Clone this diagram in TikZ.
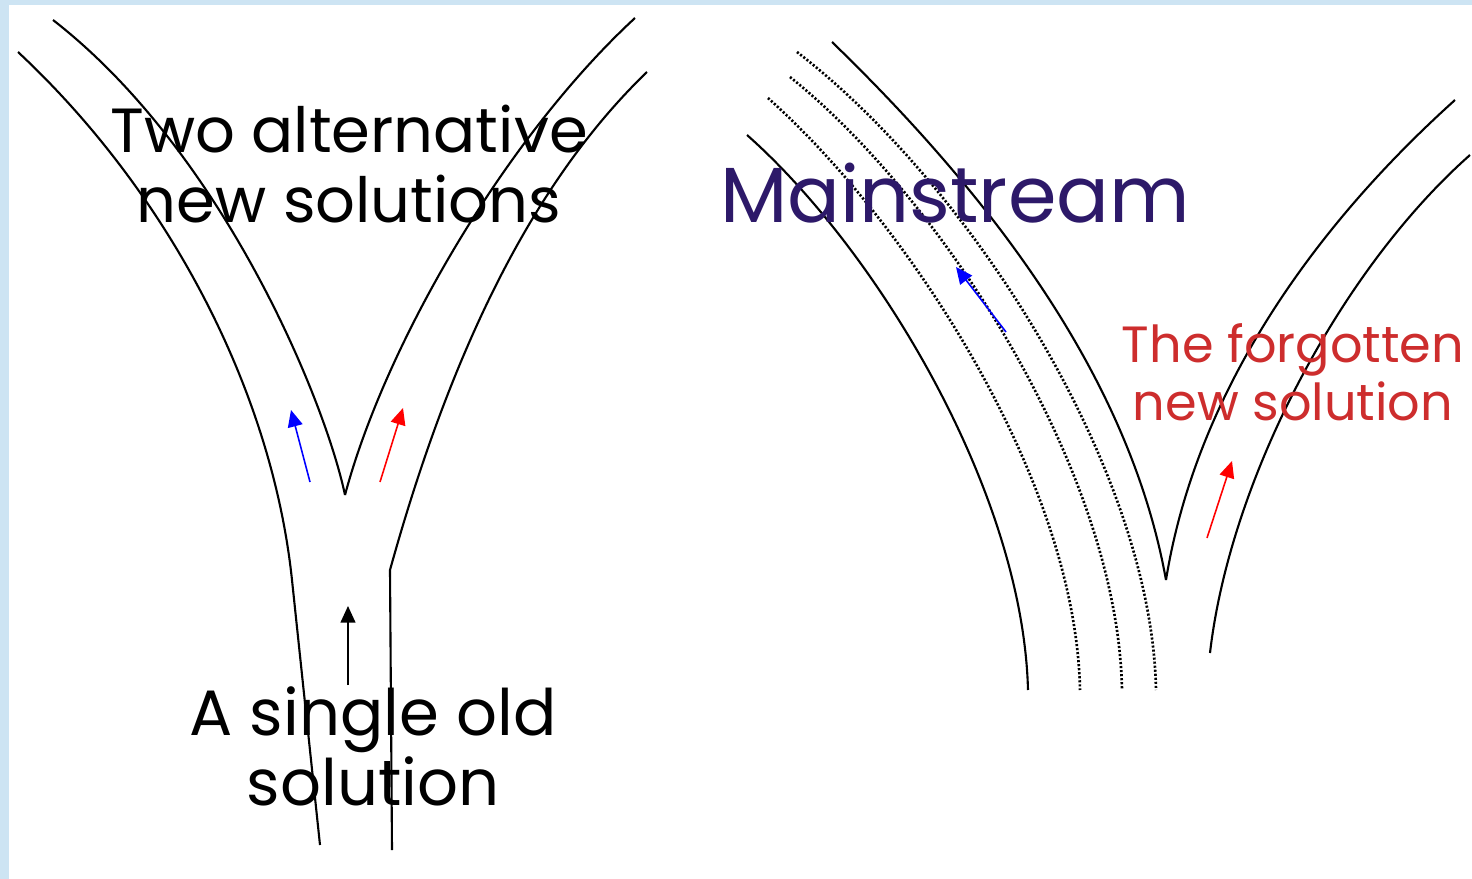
\documentclass[tikz,border=0pt]{standalone}
\usepackage{fontspec}
\setmainfont{Poppins}
\usetikzlibrary{arrows.meta}
\definecolor{frameblue}{RGB}{205,228,243}
\definecolor{streamink}{RGB}{45,25,105}
\definecolor{lostred}{RGB}{205,45,45}

\begin{document}
\begin{tikzpicture}[x=0.02cm, y=-0.02cm,
    rail/.style={line width=1.2pt},
    trail/.style={line width=1.5pt, dash pattern=on 1.2pt off 1.1pt},
    flow/.style={line width=0.9pt, -{Triangle[length=9.5pt, width=8.5pt]}},
    say/.style={anchor=base, align=center, inner sep=0pt}]
    \useasboundingbox (0,0) rectangle (1472,879);
    \fill[white] (0,0) rectangle (1472,879);
    \fill[frameblue] (0,0) rectangle (1472,5);
    \fill[frameblue] (0,0) rectangle (9,879);

    % left: the old road splits in two
    \draw[rail] (18,52) .. controls (168,192) and (272,390) .. (292,580) -- (320,845);
    \draw[rail] (53,20) .. controls (223,152) and (325,400) .. (345,495);
    \draw[rail] (345,495) .. controls (385,345) and (505,138) .. (635,18);
    \draw[rail] (647,72) .. controls (517,197) and (440,390) .. (390,570) -- (392,850);

    \coordinate (b0) at (310,482);
    \coordinate (b1) at (291,410);
    \coordinate (r0) at (380,482);
    \coordinate (r1) at (403,408);
    \coordinate (k0) at (348,685);
    \coordinate (k1) at (348,606);
    \draw[flow, blue] (b0) -- (b1);
    \draw[flow, red] (r0) -- (r1);
    \draw[flow, black] (k0) -- (k1);

    % base sits on the last line
    \node[say, font=\fontsize{35.5}{39.7}\selectfont] (two) at (349,222) {Two alternative\\new solutions};
    \node[say, font=\fontsize{36.5}{39.7}\selectfont] (old) at (373,805) {A single old\\solution};

    % right: the mainstream and the branch left behind
    \draw[rail] (747,135) .. controls (877,250) and (1023,492) .. (1028,690);
    \draw[trail] (768,98) .. controls (908,223) and (1076,480) .. (1080,690);
    \draw[trail] (790,77) .. controls (940,197) and (1118,470) .. (1122,690);
    \draw[trail] (797,52) .. controls (970,185) and (1152,470) .. (1156,690);
    \draw[rail] (832,42) .. controls (995,200) and (1130,380) .. (1166,580);
    \draw[rail] (1166,580) .. controls (1195,400) and (1305,235) .. (1455,100);
    \draw[rail] (1470,155) .. controls (1340,270) and (1230,480) .. (1210,653);

    \coordinate (m0) at (1006,332);
    \coordinate (m1) at (956,267);
    \coordinate (f0) at (1207,538);
    \coordinate (f1) at (1232,461);
    \draw[flow, blue] (m0) -- (m1);
    \draw[flow, red] (f0) -- (f1);

    \node[say, text=streamink, font=\fontsize{44.5}{50}\selectfont] (main) at (955,222) {Mainstream};
    \node[say, text=lostred, font=\fontsize{29}{32.9}\selectfont] (lost) at (1293,420) {The forgotten\\new solution};
\end{tikzpicture}
\end{document}
